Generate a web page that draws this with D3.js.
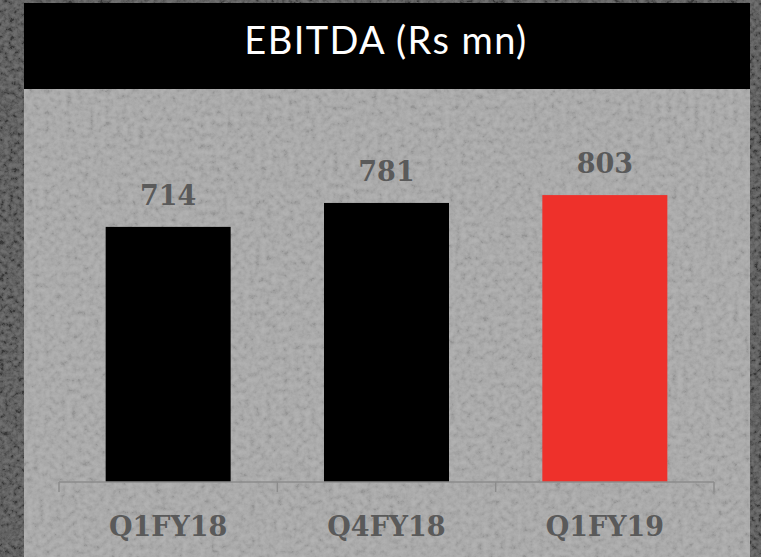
<!DOCTYPE html>
<html>
<head>
<meta charset="utf-8">
<script src="https://cdn.jsdelivr.net/npm/d3@7"></script>
<style>
  html, body { margin: 0; padding: 0; background: #4a4a4a; }
  svg { display: block; }
</style>
</head>
<body>
<svg id="chart" width="761" height="557"></svg>
<script>
// EBITDA by quarter, Rs mn
const title = "EBITDA (Rs mn)";
const categories = ["Q1FY18", "Q4FY18", "Q1FY19"];
const values = [714, 781, 803];
const highlighted = "Q1FY19";

const W = 761, H = 557;
const svg = d3.select("#chart");

// soft mottled grain for the stone-like backgrounds
const defs = svg.append("defs");
function grainFilter(id, freq, alpha, gain) {
  const f = defs.append("filter").attr("id", id)
    .attr("x", 0).attr("y", 0).attr("width", "100%").attr("height", "100%");
  f.append("feTurbulence").attr("type", "fractalNoise")
    .attr("baseFrequency", freq).attr("numOctaves", 4).attr("seed", 11);
  const off = 0.5 - gain * 0.5;
  f.append("feColorMatrix").attr("type", "matrix")
    .attr("values", `${gain} 0 0 0 ${off}  ${gain} 0 0 0 ${off}  ${gain} 0 0 0 ${off}  0 0 0 0 ${alpha}`);
  f.append("feGaussianBlur").attr("stdDeviation", 0.6);
}
grainFilter("grainDark", 0.22, 0.22, 2.0);
grainFilter("grainLight", 0.18, 0.12, 1.6);

// outer dark frame
svg.append("rect").attr("width", W).attr("height", H).attr("fill", "#484848");
svg.append("rect").attr("width", W).attr("height", H).attr("filter", "url(#grainDark)");

// light panel
const panel = { x: 24, y: 3, w: 726, h: H - 3 };
svg.append("rect").attr("x", panel.x).attr("y", panel.y)
  .attr("width", panel.w).attr("height", panel.h).attr("fill", "#a8a8a8");
svg.append("rect").attr("x", panel.x).attr("y", panel.y)
  .attr("width", panel.w).attr("height", panel.h)
  .attr("filter", "url(#grainLight)");

// header bar
svg.append("rect").attr("x", panel.x).attr("y", panel.y)
  .attr("width", panel.w).attr("height", 86).attr("fill", "#000");
svg.append("text")
  .attr("x", 386).attr("y", 54)
  .attr("text-anchor", "middle")
  .attr("font-family", "Lato, 'Open Sans', sans-serif")
  .attr("font-size", 38)
  .attr("letter-spacing", 1.4)
  .attr("fill", "#ffffff")
  .text(title);

// scales
const x = d3.scaleBand()
  .domain(categories)
  .range([59, 714])
  .paddingInner(0.4275)
  .paddingOuter(0.21375);

const y = d3.scaleLinear()
  .domain([0, 1000])
  .range([482, 124.7]);

// bars
const data = categories.map((c, i) => ({ cat: c, value: values[i] }));
svg.append("g").selectAll("rect")
  .data(data)
  .join("rect")
  .attr("x", d => x(d.cat))
  .attr("y", d => y(d.value))
  .attr("width", x.bandwidth())
  .attr("height", d => y(0) - y(d.value))
  .attr("fill", d => d.cat === highlighted ? "#ee312b" : "#000000");

// category axis: baseline with ticks at band boundaries
const axis = svg.append("g").attr("stroke", "#8c8c8c").attr("stroke-width", 1.5);
const [x0, x1] = x.range();
axis.append("line").attr("x1", x0).attr("x2", x1).attr("y1", y(0)).attr("y2", y(0));
axis.selectAll("line.tick")
  .data(d3.range(categories.length + 1))
  .join("line")
  .attr("class", "tick")
  .attr("x1", i => x0 + i * x.step())
  .attr("x2", i => x0 + i * x.step())
  .attr("y1", y(0)).attr("y2", y(0) + 10);

// value labels
svg.append("g").selectAll("text")
  .data(data)
  .join("text")
  .attr("x", d => x(d.cat) + x.bandwidth() / 2)
  .attr("y", d => y(d.value) - 22)
  .attr("text-anchor", "middle")
  .attr("font-family", "'DejaVu Serif', serif")
  .attr("font-weight", "bold")
  .attr("font-size", 27)
  .attr("fill", "#5a5a5a")
  .text(d => d3.format(",")(d.value));

// category labels
svg.append("g").selectAll("text")
  .data(categories)
  .join("text")
  .attr("x", d => x(d) + x.bandwidth() / 2)
  .attr("y", 536)
  .attr("text-anchor", "middle")
  .attr("font-family", "'DejaVu Serif', serif")
  .attr("font-weight", "bold")
  .attr("font-size", 27)
  .attr("fill", "#5a5a5a")
  .text(d => d);
</script>
</body>
</html>
